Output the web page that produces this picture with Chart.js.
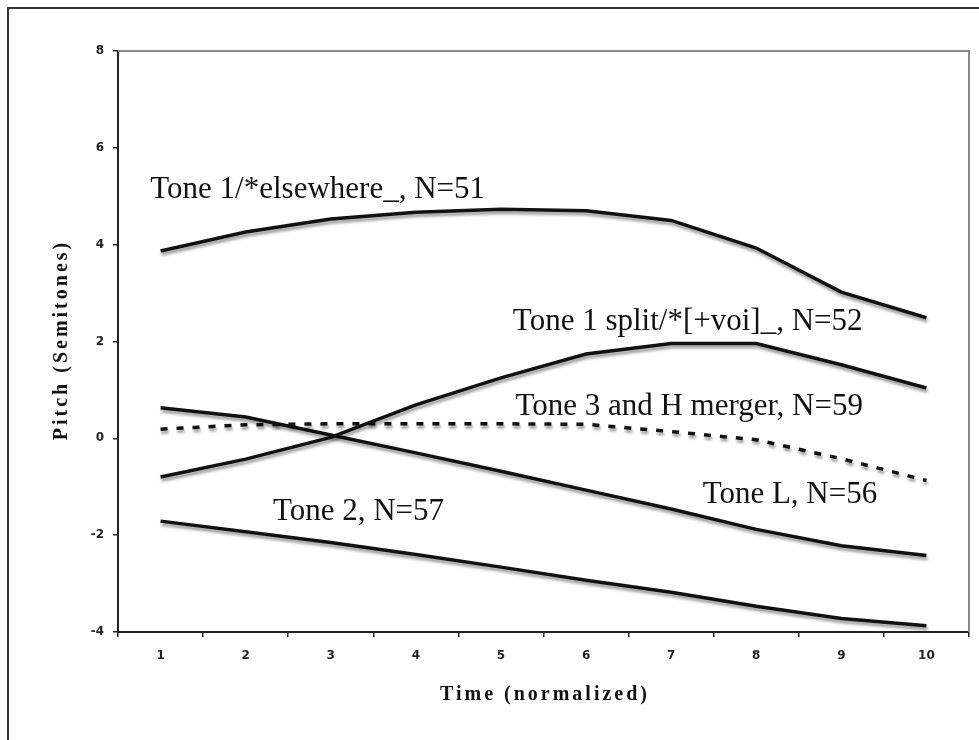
<!DOCTYPE html>
<html>
<head>
<meta charset="utf-8">
<script src="https://cdn.jsdelivr.net/npm/chart.js@4/dist/chart.umd.min.js"></script>
<style>
  html, body { margin: 0; padding: 0; background: #fff; }
  #wrap { width: 979px; height: 740px; position: relative; }
</style>
</head>
<body>
<div id="wrap"><canvas id="c" width="979" height="740"></canvas></div>
<script>
// ---- data ----
const categories = ['1', '2', '3', '4', '5', '6', '7', '8', '9', '10'];
const tone1Elsewhere = [3.87, 4.26, 4.53, 4.67, 4.73, 4.70, 4.50, 3.93, 3.02, 2.49];
const tone1Split     = [-0.80, -0.43, 0.02, 0.69, 1.25, 1.74, 1.96, 1.96, 1.52, 1.04];
const tone3HMerger   = [0.19, 0.28, 0.30, 0.30, 0.30, 0.29, 0.14, -0.03, -0.42, -0.87];
const toneL          = [0.63, 0.44, 0.07, -0.30, -0.68, -1.07, -1.46, -1.88, -2.22, -2.42];
const tone2          = [-1.71, -1.93, -2.15, -2.40, -2.66, -2.93, -3.18, -3.47, -3.72, -3.87];
const seriesNames = ['Tone 1/*elsewhere_, N=51', 'Tone 1 split/*[+voi]_, N=52',
                     'Tone 3 and H merger, N=59', 'Tone L, N=56', 'Tone 2, N=57'];
// label anchors in data space: [category index (0-based), value]
const labelX = [-0.12, 4.14, 4.17, 6.37, 1.32];
const labelY = [4.97, 2.24, 0.48, -1.33, -1.69];
const yMin = -4, yMax = 8, yStep = 2;
const xTitle = 'Time (normalized)';
const yTitle = 'Pitch (Semitones)';

const lineColor = '#111';
function ds(label, data, dashed) {
  return {
    label, data,
    borderColor: lineColor,
    borderWidth: 3.5,
    borderDash: dashed ? [7, 9] : [],
    pointRadius: 0,
    tension: 0,
    fill: false
  };
}

const decor = {
  id: 'decor',
  beforeDraw(chart) {
    const ctx = chart.ctx;
    ctx.save();
    ctx.fillStyle = '#fff';
    ctx.fillRect(0, 0, chart.width, chart.height);
    // outer frame (left and top visible)
    ctx.strokeStyle = '#333';
    ctx.lineWidth = 2;
    ctx.beginPath();
    ctx.moveTo(8, chart.height);
    ctx.lineTo(8, 8);
    ctx.lineTo(chart.width, 8);
    ctx.stroke();
    ctx.restore();
  },
  beforeDatasetsDraw(chart) {
    const {ctx, chartArea: a} = chart;
    ctx.save();
    ctx.strokeStyle = '#8a8a8a';
    ctx.lineWidth = 2;
    ctx.beginPath();
    ctx.moveTo(a.left, a.top);
    ctx.lineTo(a.right, a.top);
    ctx.lineTo(a.right, a.bottom);
    ctx.stroke();
    ctx.restore();
  },
  beforeDatasetDraw(chart) {
    const ctx = chart.ctx;
    ctx.save();
    ctx.shadowColor = 'rgba(0,0,0,0.4)';
    ctx.shadowOffsetX = 1;
    ctx.shadowOffsetY = 3;
    ctx.shadowBlur = 3;
  },
  afterDatasetDraw(chart) {
    chart.ctx.restore();
  },
  afterDraw(chart) {
    const {ctx, chartArea: a} = chart;
    const xs = chart.scales.x, ys = chart.scales.y;
    ctx.save();
    ctx.fillStyle = '#111';
    ctx.font = '31px "Liberation Serif", "Times New Roman", serif';
    ctx.textAlign = 'left';
    ctx.textBaseline = 'alphabetic';
    for (let i = 0; i < seriesNames.length; i++) {
      ctx.fillText(seriesNames[i], xs.getPixelForValue(labelX[i]), ys.getPixelForValue(labelY[i]));
    }
    // axis titles
    ctx.font = 'bold 20px "Liberation Serif", "Times New Roman", serif';
    try { ctx.letterSpacing = '3px'; } catch (e) {}
    ctx.textAlign = 'center';
    ctx.textBaseline = 'middle';
    ctx.fillText(xTitle, (a.left + a.right) / 2 + 1.5, 695);
    ctx.translate(62, (a.top + a.bottom) / 2);
    ctx.rotate(-Math.PI / 2);
    ctx.fillText(yTitle, 1.5, 0);
    ctx.restore();
  }
};

new Chart(document.getElementById('c'), {
  type: 'line',
  data: {
    labels: categories,
    datasets: [
      ds(seriesNames[0], tone1Elsewhere, false),
      ds(seriesNames[1], tone1Split, false),
      ds(seriesNames[2], tone3HMerger, true),
      ds(seriesNames[3], toneL, false),
      ds(seriesNames[4], tone2, false)
    ]
  },
  options: {
    responsive: false,
    animation: false,
    devicePixelRatio: 1,
    layout: { padding: { top: 51, right: 10, left: 0, bottom: 0 } },
    plugins: { legend: { display: false }, tooltip: { enabled: false } },
    scales: {
      x: {
        type: 'category',
        offset: true,
        grid: { display: true, offset: true, drawOnChartArea: false, drawTicks: true, tickLength: 5, color: '#222', lineWidth: 1.5 },
        border: { display: true, color: '#222', width: 2 },
        ticks: { color: '#222', font: { family: '"DejaVu Sans", "Liberation Sans", sans-serif', size: 12, weight: 'bold' }, padding: 12, maxRotation: 0 },
        afterFit(scale) { scale.height = 108; }
      },
      y: {
        min: yMin, max: yMax,
        grid: { display: true, drawOnChartArea: false, drawTicks: true, tickLength: 5, color: '#222', lineWidth: 1.5 },
        border: { display: true, color: '#222', width: 2 },
        ticks: { stepSize: yStep, color: '#222', font: { family: '"DejaVu Sans", "Liberation Sans", sans-serif', size: 12, weight: 'bold' }, padding: 9 },
        afterFit(scale) { scale.width = 118; }
      }
    }
  },
  plugins: [decor]
});
</script>
</body>
</html>
